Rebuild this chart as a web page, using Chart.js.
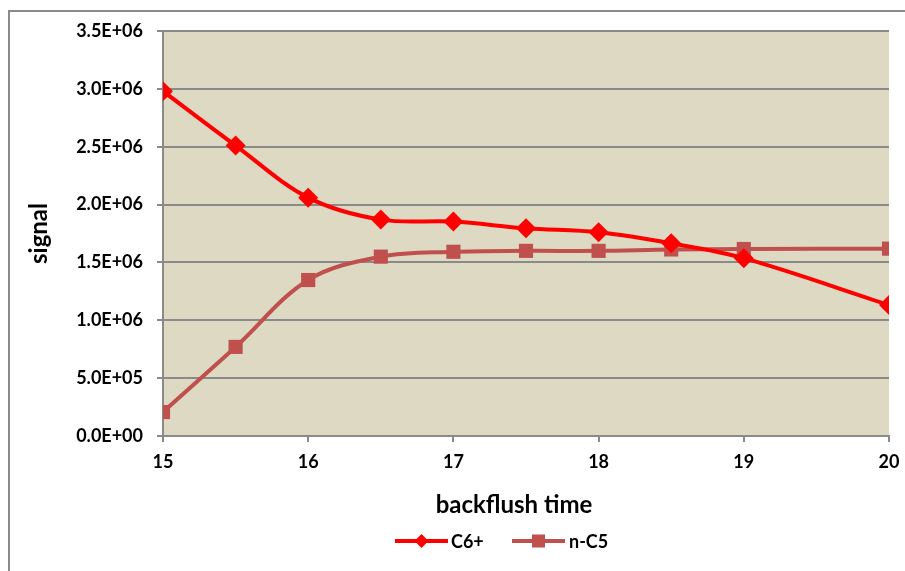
<!DOCTYPE html>
<html>
<head>
<meta charset="utf-8">
<script src="https://cdn.jsdelivr.net/npm/chart.js@4.4.1/dist/chart.umd.min.js"></script>
<style>
html,body{margin:0;padding:0;background:#fff;}
#wrap{position:relative;width:905px;height:571px;}
</style>
</head>
<body>
<div id="wrap"><canvas id="c" width="905" height="571"></canvas></div>
<script>
const times = [15, 15.5, 16, 16.5, 17, 17.5, 18, 18.5, 19, 20];
const c6plus = [2.98e6, 2.51e6, 2.06e6, 1.87e6, 1.853e6, 1.795e6, 1.76e6, 1.665e6, 1.537e6, 1.132e6];
const nC5 = [0.207e6, 0.77e6, 1.348e6, 1.55e6, 1.592e6, 1.60e6, 1.60e6, 1.612e6, 1.616e6, 1.619e6];
const seriesNames = ['C6+', 'n-C5'];
const xTitle = 'backflush time';
const yTitle = 'signal';

function sci(v){
  const [m,e] = Number(v).toExponential(1).toUpperCase().split('E');
  const sign = e[0] === '-' ? '-' : '+';
  const d = e.replace(/[+-]/,'').padStart(2,'0');
  return m + 'E' + sign + d;
}

const FONT = 'Lato, "Open Sans", sans-serif';

const bgPlugin = {
  id:'bg',
  beforeDraw(chart){
    const {ctx, chartArea:a} = chart;
    ctx.save();
    ctx.fillStyle = '#DDD9C3';
    ctx.fillRect(a.left, a.top, a.right-a.left, a.bottom-a.top);
    ctx.strokeStyle = '#8a8a8a';
    ctx.lineWidth = 2;
    ctx.beginPath();
    ctx.moveTo(9, 600); ctx.lineTo(9, 11); ctx.lineTo(1000, 11);
    ctx.stroke();
    ctx.restore();
  }
};

const titleLegendPlugin = {
  id:'xlLegend',
  afterDraw(chart){
    const ctx = chart.ctx;
    ctx.save();
    // x axis title
    ctx.fillStyle = '#000';
    ctx.font = 'bold 24px ' + FONT;
    ctx.textAlign = 'center';
    ctx.textBaseline = 'alphabetic';
    ctx.fillText(xTitle, 514, 513);
    // legend
    const y = 541;
    const items = [{x0:395, x1:448, tx:451}, {x0:512, x1:565, tx:569}];
    chart.data.datasets.forEach((ds,i)=>{
      const it = items[i];
      ctx.strokeStyle = ds.borderColor;
      ctx.lineWidth = 4;
      ctx.beginPath(); ctx.moveTo(it.x0,y); ctx.lineTo(it.x1,y); ctx.stroke();
      const cx = (it.x0+it.x1)/2;
      ctx.fillStyle = ds.pointBackgroundColor;
      if (ds.pointStyle === 'rectRot'){
        const r = 7;
        ctx.beginPath(); ctx.moveTo(cx,y-r); ctx.lineTo(cx+r,y); ctx.lineTo(cx,y+r); ctx.lineTo(cx-r,y); ctx.closePath(); ctx.fill();
      } else {
        ctx.fillRect(cx-6.5,y-6.5,13,13);
      }
      ctx.fillStyle = '#000';
      ctx.font = 'bold 18px ' + FONT;
      ctx.textBaseline = 'middle';
      ctx.textAlign = 'left';
      ctx.fillText(ds.label, it.tx, y+1);
    });
    ctx.restore();
  }
};

new Chart(document.getElementById('c'), {
  type:'line',
  data:{
    datasets:[
      {
        label: seriesNames[0],
        data: times.map((t,i)=>({x:t, y:c6plus[i]})),
        borderColor:'#FF0000',
        backgroundColor:'#FF0000',
        pointBackgroundColor:'#FF0000',
        pointBorderColor:'#FF0000',
        pointStyle:'rectRot',
        pointRadius:10,
        pointBorderWidth:0,
        borderWidth:4,
        tension:0.35,
        fill:false
      },
      {
        label: seriesNames[1],
        data: times.map((t,i)=>({x:t, y:nC5[i]})),
        borderColor:'#C0504D',
        backgroundColor:'#C0504D',
        pointBackgroundColor:'#C0504D',
        pointBorderColor:'#C0504D',
        pointStyle:'rect',
        pointRadius:10,
        pointBorderWidth:0,
        borderWidth:4,
        tension:0.35,
        fill:false
      }
    ]
  },
  options:{
    responsive:false,
    animation:false,
    layout:{padding:{left:0, top:31, right:16, bottom:50}},
    plugins:{legend:{display:false}, tooltip:{enabled:false}},
    scales:{
      x:{
        type:'linear', min:15, max:20,
        ticks:{stepSize:1, color:'#000', font:{family:FONT, size:18, weight:'bold'}, padding:9, maxRotation:0},
        grid:{drawOnChartArea:false, drawTicks:true, tickLength:6, color:'#8a8a8a', lineWidth:2},
        border:{color:'#8a8a8a', width:2},
        title:{display:false, text:xTitle},
        afterFit(s){ s.height = 85; s.paddingRight = 0; s.paddingLeft = 0; }
      },
      y:{
        min:0, max:3.5e6,
        ticks:{stepSize:5e5, color:'#000', font:{family:FONT, size:18, weight:'bold'}, padding:14, callback:(v)=>sci(v)},
        grid:{color:'#8a8a8a', lineWidth:2, tickLength:6, drawTicks:true},
        border:{color:'#8a8a8a', width:2},
        title:{display:true, text:yTitle, color:'#000', font:{family:FONT, size:24, weight:'bold'}, padding:{top:25,bottom:0}},
        afterFit(s){ s.width = 163; s.paddingTop = 0; s.paddingBottom = 0; }
      }
    }
  },
  plugins:[bgPlugin, titleLegendPlugin]
});
</script>
</body>
</html>
